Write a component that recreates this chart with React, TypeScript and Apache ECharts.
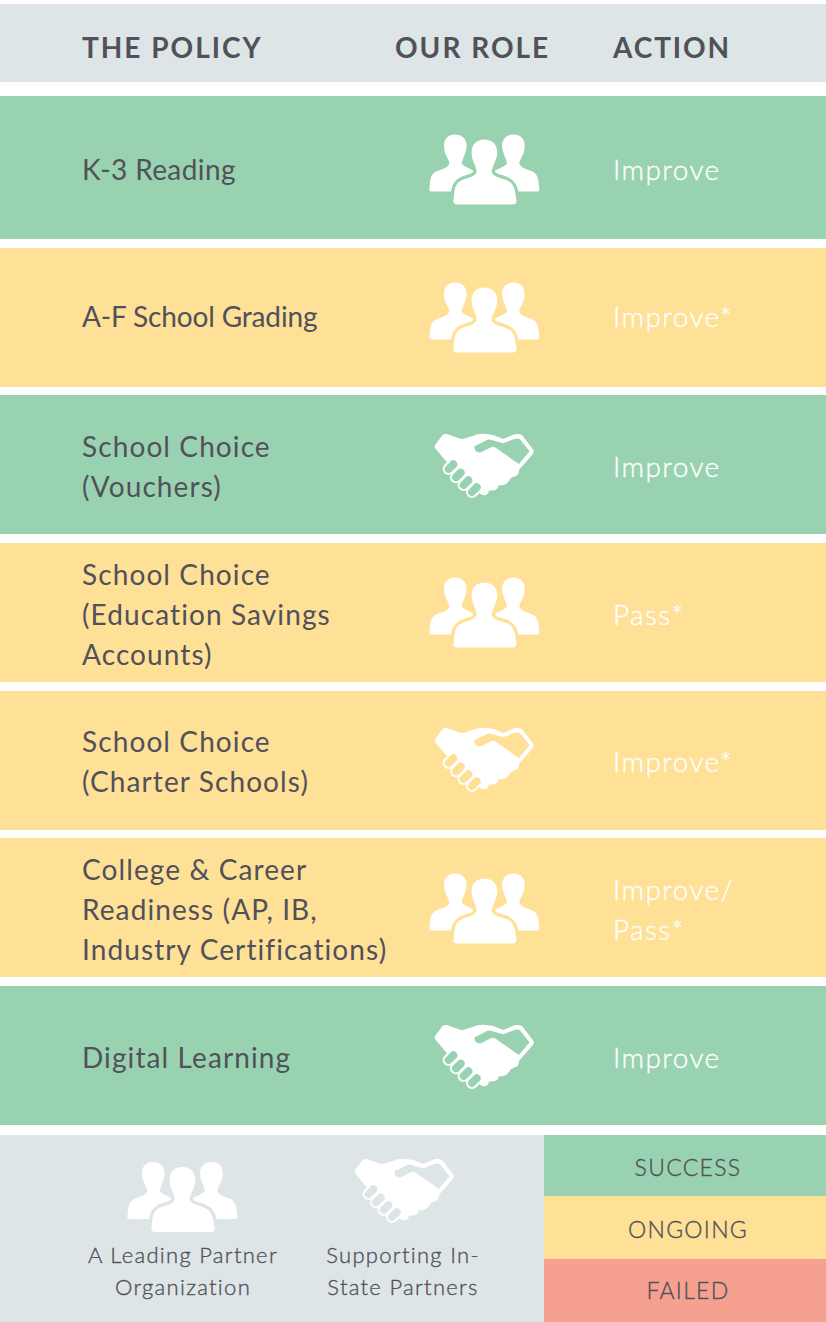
import React, { useEffect, useRef } from "react";
import * as echarts from "echarts";

const headers = ["THE POLICY", "OUR ROLE", "ACTION"];
const policies = [
  "K-3 Reading",
  "A-F School Grading",
  "School Choice\n(Vouchers)",
  "School Choice\n(Education Savings\nAccounts)",
  "School Choice\n(Charter Schools)",
  "College & Career\nReadiness (AP, IB,\nIndustry Certifications)",
  "Digital Learning",
];
const roles = ["lead", "lead", "support", "lead", "support", "lead", "support"];
const actions = ["Improve", "Improve*", "Improve", "Pass*", "Improve*", "Improve/\nPass*", "Improve"];
const statuses = ["success", "ongoing", "success", "ongoing", "ongoing", "ongoing", "success"];
const legendRoles = ["A Leading Partner\nOrganization", "Supporting In-\nState Partners"];
const legendStatuses = ["SUCCESS", "ONGOING", "FAILED"];

const GREEN = "#99D2B0";
const YELLOW = "#FEE096";
const RED = "#F6A18F";
const GREY = "#DEE5E7";
const INK = "#51515A";
const FONT = "Lato";

const rowBands = [[96, 239], [248, 387], [395, 534], [543, 682], [691, 830], [838, 977], [986, 1125]];
const textMids = [169, 316, 466, 614, 761, 909, 1057];
const iconMids = [169.5, 317.5, 467, 612.5, 761, 908.5, 1058];

// Tracking per line of text, in px
const tracking: Record<string, number> = {
  "K-3 Reading": 0.4,
  "A-F School Grading": -0.15,
  "THE POLICY": 2,
  "OUR ROLE": 2,
  "ACTION": 1.9,
  "Improve": 1.4,
  "Improve*": 1.4,
  "Improve/": 1.4,
  "Pass*": 1.4,
  "A Leading Partner": 1.3,
  "Organization": 1.3,
  "Supporting In-": 1.3,
  "State Partners": 1.3,
  "SUCCESS": 1.3,
  "ONGOING": 1.3,
  "FAILED": 1.3,
};

echarts.graphic.registerShape(
  "personSide",
  echarts.graphic.extendPath(
    "M105 45C85 45 72 58 72 78C72 90 74 97 76 102C82 115 86 122 88 130C88 138 80 145 65 150C45 155 32 162 30 190L28 212Q28 216 34 216L165 216L165 155C145 145 130 140 125 132L128 120C135 105 140 92 140 78C140 58 125 45 105 45Z",
    {}
  )
);
echarts.graphic.registerShape(
  "personCentre",
  echarts.graphic.extendPath(
    "M193 60C170 60 155 75 155 98C155 108 157 118 160 125C165 135 168 145 170 155C170 165 160 172 140 177C115 183 105 195 103 220L100 245Q100 255 110 255L280 255Q290 255 290 245L286 220C283 195 270 183 245 177C225 172 215 165 215 155C217 145 222 135 226 125C229 118 232 108 232 98C232 75 217 60 193 60Z",
    {}
  )
);
echarts.graphic.registerShape(
  "handBody",
  echarts.graphic.extendPath(
    "M30 76L52 46Q58 40 68 43L108 57Q114 58 122 55L158 43Q170 40 185 42L205 45L235 57L268 43Q282 40 292 46L324 88Q330 96 322 104L282 150Q284 165 268 170L256 176Q250 192 232 196L222 196Q218 212 200 212L192 212Q190 228 175 226Q165 224 155 212L60 120L32 86Q27 80 30 76Z",
    {}
  )
);
echarts.graphic.registerShape(
  "handInner",
  echarts.graphic.extendPath(
    "M150 78L182 62Q190 56 200 60L235 70L268 57Q278 54 285 58L314 94L282 132L210 82Q205 78 198 82L170 96Q160 100 152 92Q146 84 150 78Z",
    {}
  )
);

function peopleIcon(x: number, y: number, bg: string) {
  return {
    type: "group",
    x,
    y,
    scaleX: 1 / 3,
    scaleY: 1 / 3,
    children: [
      { type: "personSide", style: { fill: "#fff" } },
      { type: "personSide", x: 386, scaleX: -1, style: { fill: "#fff" } },
      { type: "personCentre", style: { fill: bg, stroke: bg, lineWidth: 20 } },
      { type: "personCentre", style: { fill: "#fff" } },
    ],
  };
}

const fingerCentres = [[78, 140], [100, 165], [123, 188], [148, 209]];

function handIcon(x: number, y: number, bg: string) {
  return {
    type: "group",
    x,
    y,
    scaleX: 1 / 3,
    scaleY: 1 / 3,
    children: [
      { type: "handBody", style: { fill: "#fff" } },
      { type: "handInner", style: { fill: bg } },
      ...fingerCentres.map(([cx, cy]) => ({
        type: "rect",
        x: cx,
        y: cy,
        rotation: Math.PI / 4,
        shape: { x: -25, y: -15, width: 50, height: 30, r: 15 },
        style: { fill: bg, stroke: "#fff", lineWidth: 6 },
      })),
    ],
  };
}

function label(text: string, x: number, y: number, fontSize: number, fill: string, extra: any = {}) {
  return {
    type: "text",
    x,
    y,
    style: {
      text,
      fill,
      fontFamily: FONT,
      fontSize,
      lineHeight: extra.lineHeight ?? 40,
      fontWeight: extra.fontWeight ?? "normal",
      align: extra.align ?? "left",
      verticalAlign: "middle",
      ...(extra.outline ? { stroke: fill, lineWidth: extra.outline } : {}),
    },
  };
}

function band(x: number, y: number, width: number, height: number, fill: string) {
  return { type: "rect", shape: { x, y, width, height }, style: { fill } };
}

function buildElements() {
  const els: any[] = [];
  els.push(band(0, 4, 826, 78, GREY));
  const headerX = [82, 395, 613];
  headers.forEach((h, i) => els.push(label(h, headerX[i], 47, 28, INK, { fontWeight: "bold" })));

  policies.forEach((p, i) => {
    const [top, bottom] = rowBands[i];
    const bg = statuses[i] === "success" ? GREEN : YELLOW;
    els.push(band(0, top, 826, bottom - top, bg));
    els.push(label(p, 82, textMids[i], 28, INK));
    els.push(roles[i] === "lead" ? peopleIcon(420, iconMids[i] - 50, bg) : handIcon(425, iconMids[i] - 47, bg));
    els.push(label(actions[i], 613, textMids[i], 28, "#fff", { fontWeight: 300, outline: 0.35 }));
  });

  els.push(band(0, 1135, 544, 187, GREY));
  els.push(peopleIcon(118, 1147, GREY));
  els.push(handIcon(345, 1145, GREY));
  els.push(label(legendRoles[0], 183, 1270.5, 22, INK, { align: "center", lineHeight: 32, fontWeight: 300, outline: 0.35 }));
  els.push(label(legendRoles[1], 403, 1270.5, 22, INK, { align: "center", lineHeight: 32, fontWeight: 300, outline: 0.35 }));

  const legendBands = [[1135, 1196, GREEN], [1196, 1259, YELLOW], [1259, 1322, RED]] as const;
  const legendMids = [1166.5, 1228.5, 1290];
  legendStatuses.forEach((s, i) => {
    const [t, b, c] = legendBands[i];
    els.push(band(544, t, 282, b - t, c));
    els.push(label(s, 688, legendMids[i], 23, INK, { align: "center", fontWeight: 300, outline: 0.35 }));
  });
  return els;
}

const css = `
html, body { margin: 0; padding: 0; background: #fff; }
svg text { letter-spacing: 1.1px; }
`;

export default function App() {
  const ref = useRef<HTMLDivElement>(null);
  useEffect(() => {
    const chart = echarts.init(ref.current!, undefined, { renderer: "svg" });
    chart.setOption({ animation: false, graphic: { elements: buildElements() } });
    ref.current!.querySelectorAll("svg text").forEach((node) => {
      const spacing = tracking[(node.textContent || "").trim()];
      if (spacing !== undefined) (node as SVGTextElement).style.letterSpacing = spacing + "px";
    });
    return () => chart.dispose();
  }, []);
  return (
    <>
      <style>{css}</style>
      <div ref={ref} style={{ width: 826, height: 1322 }} />
    </>
  );
}
